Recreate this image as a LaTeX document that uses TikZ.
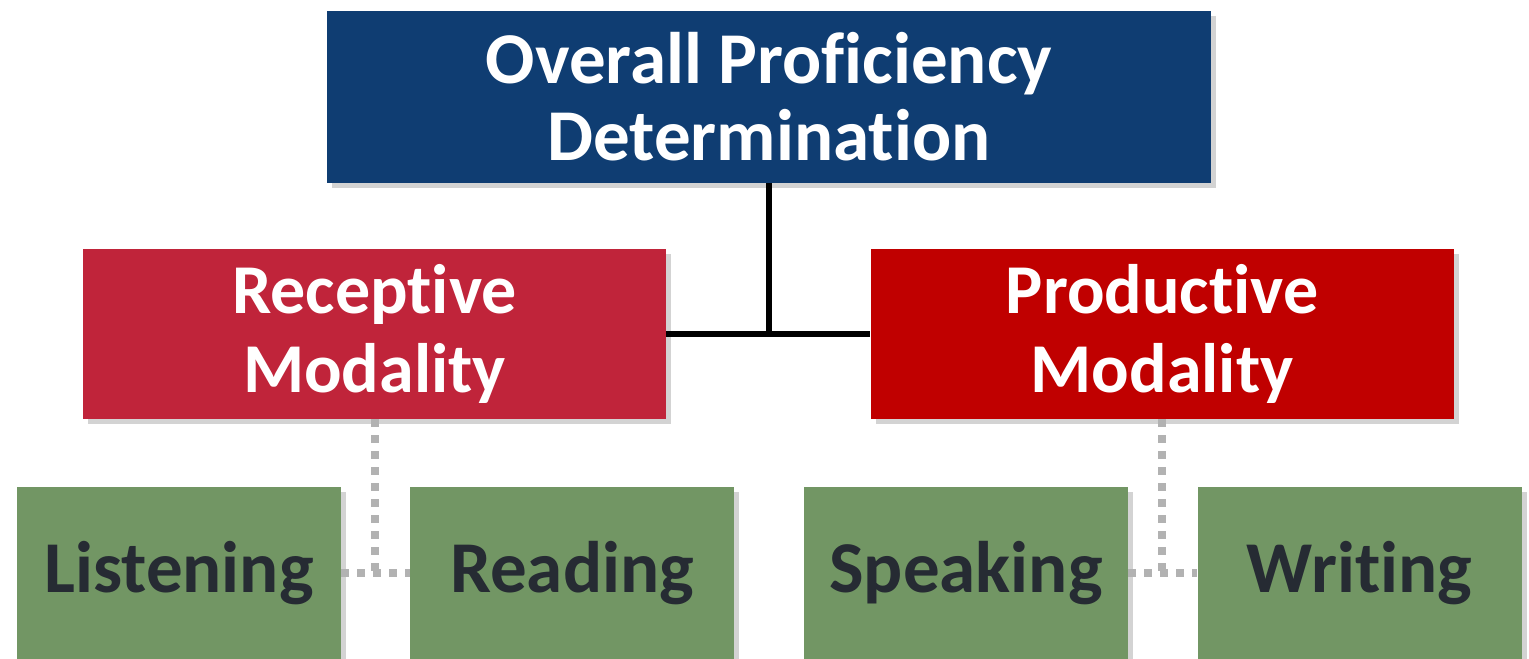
\documentclass[tikz,border=0pt]{standalone}
\usepackage{fontspec}
\setmainfont{Carlito}[Ligatures={NoCommon}]
\usetikzlibrary{shadows}

\definecolor{topblue}{HTML}{0F3D72}
\definecolor{recred}{HTML}{C0243A}
\definecolor{prodred}{HTML}{C00000}
\definecolor{skillgreen}{HTML}{729664}
\definecolor{skilltext}{HTML}{262B33}
\definecolor{dotgray}{HTML}{B2B2B2}

\begin{document}
\begin{tikzpicture}[x=0.5pt,y=-0.5pt,
                    boxshadow/.style={drop shadow={shadow xshift=2.5pt,shadow yshift=-2.5pt,opacity=0.35}},
                    topbox/.style={rectangle,boxshadow,fill=topblue,text=white,minimum width=442pt,
                                   minimum height=85.5pt,align=center,font=\fontsize{36.5}{38.5}\selectfont\bfseries},
                    modbox/.style={rectangle,boxshadow,text=white,minimum width=291.5pt,
                                   minimum height=85pt,align=center,font=\fontsize{35}{39.5}\selectfont\bfseries},
                    skillbox/.style={rectangle,boxshadow,fill=skillgreen,text=skilltext,minimum width=162pt,
                                     minimum height=86.5pt,font=\fontsize{36.5}{40}\selectfont\bfseries},
                    mainline/.style={line width=3pt,black},
                    dotline/.style={line width=4pt,dotgray,dash pattern=on 4pt off 4pt}]
  \useasboundingbox (0,0) rectangle (1529,658);

  \node[topbox]                 (opd)  at (769,97)    {Overall Proficiency\\Determination};
  \node[modbox,fill=recred]     (rec)  at (374.5,334) {Receptive\\Modality};
  \node[modbox,fill=prodred]    (prod) at (1162,334)  {Productive\\Modality};
  \node[skillbox]               (lis)  at (179,573)   {Listening};
  \node[skillbox]               (rea)  at (572,573)   {Reading};
  \node[skillbox]               (spe)  at (966,573)   {Speaking};
  \node[skillbox]               (wri)  at (1359.5,573) {Writing};

  \draw[mainline] (rec.east) -- (prod.west);
  \draw[mainline] (opd.south) -- (opd.south |- rec.east);

  \draw[dotline] (rec.south) -- (rec.south |- lis.east);
  \draw[dotline] (lis.east) -- (rea.west);
  \draw[dotline] (prod.south) -- (prod.south |- spe.east);
  \draw[dotline] (spe.east) -- (wri.west);
\end{tikzpicture}
\end{document}
